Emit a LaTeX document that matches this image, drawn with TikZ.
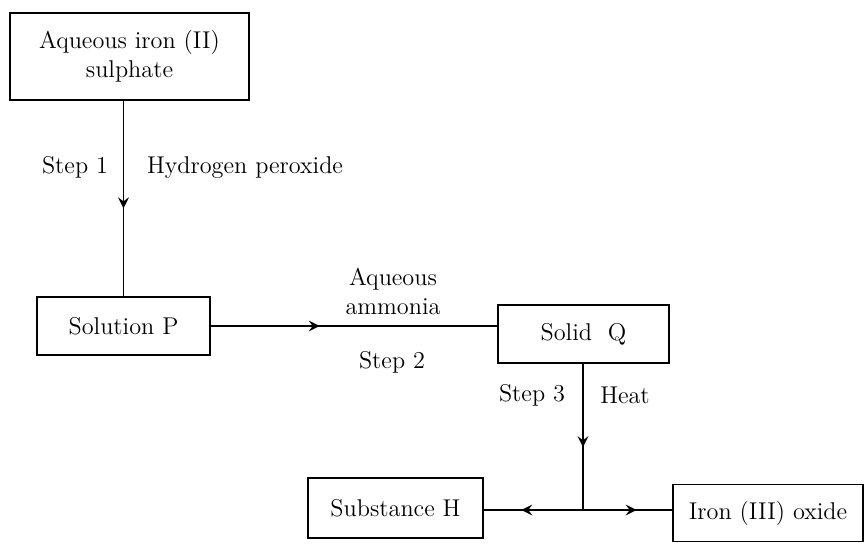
\documentclass[tikz,border=0pt]{standalone}
\usepackage{tikz}
\usetikzlibrary{arrows, positioning, decorations.markings}

\begin{document}
\begin{tikzpicture}[x=0.02cm, y=-0.02cm, font=\fontsize{13.8}{16.5}\selectfont]
\tikzstyle{box} = [rectangle, minimum height=1.16cm, text centered, draw=black, thick, inner sep=2pt]
\tikzstyle{midarrow} = [semithick, decoration={markings, mark=at position #1 with {\arrow[scale=1.7]{stealth}}}, postaction={decorate}]
\tikzstyle{lbl} = [inner sep=1pt]

\useasboundingbox (0,0) rectangle (866,544);

\node (source) [box, minimum width=4.78cm, minimum height=1.74cm, align=center] at (129.5,56.5) {Aqueous iron (II)\\sulphate};
\node (solP)  [box, minimum width=3.46cm] at (123.5,326) {Solution P};
\node (solQ)  [box, minimum width=3.42cm] at (583.5,334) {Solid~~Q};
\node (subH)  [box, minimum width=3.5cm, minimum height=1.2cm] at (395.5,508) {Substance H};
\node (oxide) [box, minimum width=3.8cm, minimum height=1.14cm] at (768,513) {Iron (III) oxide};

\coordinate (junc) at (583,510);

\node (step1) [lbl] at (75,167) {Step 1};
\node (h2o2)  [lbl, anchor=west] at (145,168) {Hydrogen peroxide};
\node (nh3)   [lbl, align=center] at (393,291) {Aqueous\\ammonia};
\node (step2) [lbl] at (392,362) {Step 2};
\node (step3) [lbl] at (532,395) {Step 3};
\node (heat)  [lbl] at (625,395) {Heat};

\draw [midarrow=0.55] (solP.north |- source.south) -- (solP.north);
\draw [midarrow=0.38] (solP.east) -- (solQ.west |- solP.east);
\draw [midarrow=0.57] (solQ.south -| junc) -- (junc);
\draw [midarrow=0.62] (junc) -- (subH.east |- junc);
\draw [midarrow=0.6] (junc) -- (oxide.west |- junc);

\end{tikzpicture}
\end{document}
